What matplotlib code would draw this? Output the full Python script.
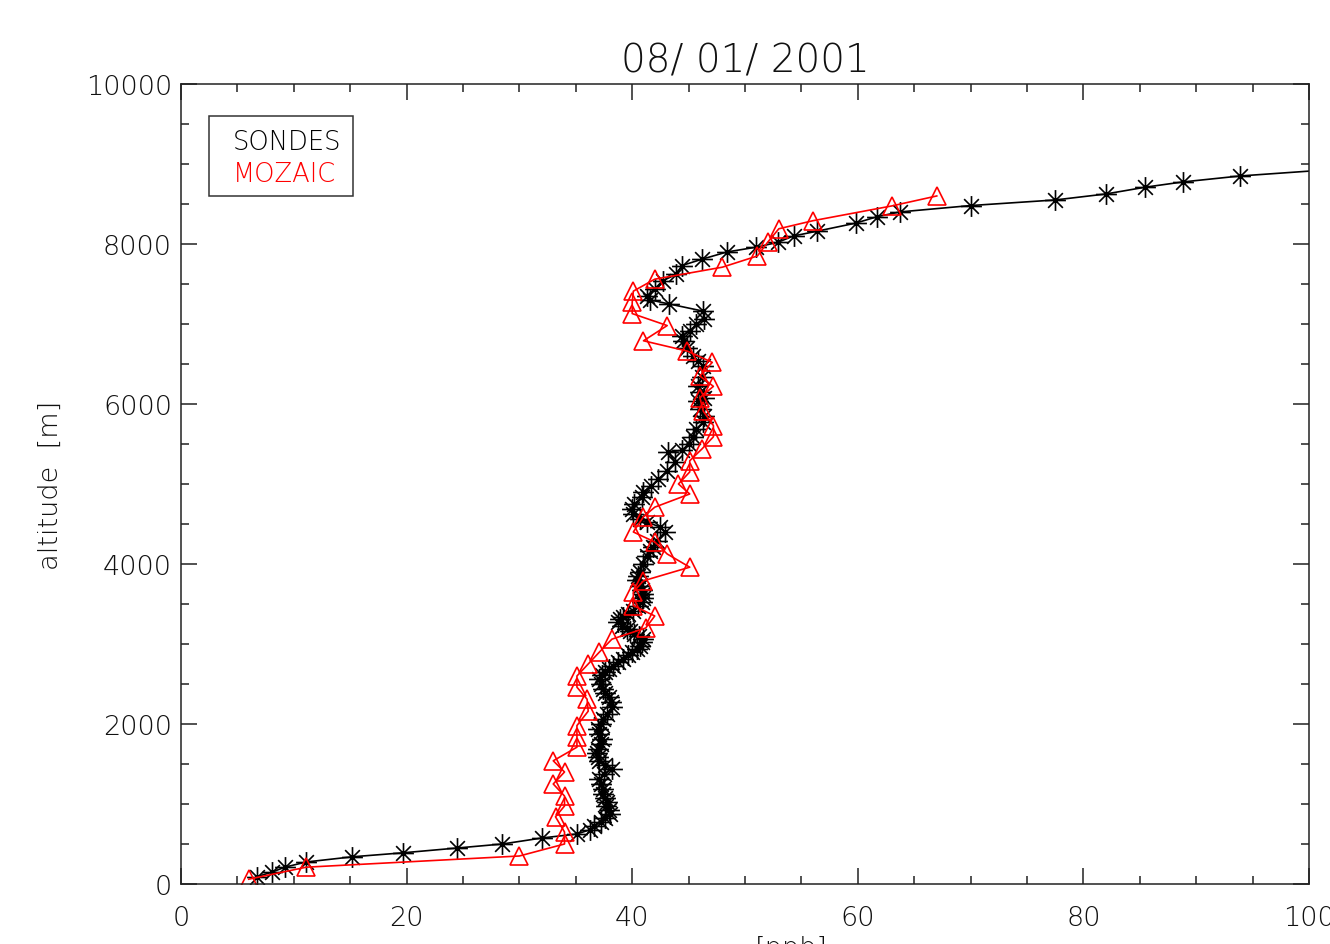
import matplotlib
matplotlib.use("Agg")
import matplotlib.pyplot as plt
from matplotlib.path import Path
from matplotlib.patches import Rectangle
from matplotlib.ticker import MultipleLocator

# ozone profiles, 08/01/2001 (o3 in ppb, altitude in m)
sondes_o3 = [6.7, 8.1, 9.2, 11.1, 15.2, 19.7, 24.5, 28.5, 32.0, 35.1, 36.3, 36.6,
             37.2, 37.6, 38.0, 37.9, 37.7, 37.8, 37.6, 37.4, 37.4, 37.2, 37.1, 37.5,
             38.2, 37.6, 37.1, 37.0, 36.9, 37.0, 37.2, 37.3, 37.1, 37.0, 37.2, 37.4,
             37.8, 38.2, 38.1, 37.9, 37.6, 37.4, 37.2, 37.1, 37.3, 37.6, 37.9, 38.3,
             38.7, 39.2, 39.6, 40.0, 40.4, 40.7, 40.9, 41.0, 40.6, 40.2, 39.8, 39.5,
             39.1, 38.7, 38.9, 39.2, 39.6, 40.1, 40.5, 40.9, 41.0, 41.0, 40.9, 40.7,
             40.4, 40.5, 40.7, 41.0, 41.3, 41.6, 41.8, 42.2, 42.9, 42.5, 41.3, 40.7,
             40.1, 40.0, 40.2, 40.9, 41.0, 41.7, 42.3, 43.1, 43.8, 43.2, 44.4, 45.0,
             45.4, 45.7, 46.3, 46.4, 46.0, 45.8, 46.4, 46.0, 45.8, 46.2, 46.3, 45.8,
             45.4, 44.9, 44.5, 44.4, 45.1, 45.7, 46.4, 46.3, 43.3, 41.6, 41.3, 42.0,
             42.7, 43.9, 44.4, 46.2, 48.4, 51.0, 52.9, 54.3, 56.4, 59.8, 61.7, 63.7,
             70.0, 77.5, 82.0, 85.5, 88.8, 93.9, 104.0]
sondes_alt = [90, 150, 210, 275, 340, 390, 450, 500, 575, 625, 680, 730,
              780, 830, 880, 930, 980, 1030, 1080, 1130, 1190, 1250, 1310, 1370,
              1440, 1490, 1540, 1590, 1640, 1690, 1750, 1810, 1870, 1940, 2000, 2060,
              2130, 2210, 2270, 2340, 2390, 2440, 2500, 2560, 2610, 2650, 2690, 2725,
              2770, 2810, 2860, 2900, 2940, 2975, 3020, 3060, 3095, 3125, 3160, 3190,
              3230, 3275, 3310, 3340, 3375, 3410, 3470, 3525, 3575, 3625, 3675, 3725,
              3800, 3850, 3900, 4000, 4100, 4160, 4210, 4290, 4400, 4460, 4525, 4560,
              4625, 4690, 4750, 4840, 4900, 4975, 5060, 5160, 5275, 5400, 5420, 5500,
              5590, 5690, 5775, 5850, 5940, 6040, 6080, 6150, 6230, 6340, 6480, 6540,
              6600, 6700, 6790, 6850, 6910, 7000, 7060, 7160, 7250, 7300, 7350, 7440,
              7540, 7620, 7730, 7810, 7900, 7960, 8020, 8100, 8160, 8260, 8340, 8400,
              8480, 8550, 8625, 8710, 8775, 8850, 8950]

mozaic_o3 = [6.0, 11.1, 30.0, 34.0, 34.0, 33.2, 34.0, 34.0, 33.0, 34.0, 33.0, 35.1,
             35.1, 35.1, 36.1, 36.0, 35.1, 35.1, 36.1, 37.1, 38.2, 41.2, 42.0, 40.1,
             40.1, 41.0, 45.1, 43.1, 42.0, 40.1, 41.0, 42.0, 45.1, 44.1, 45.1, 45.1,
             46.2, 47.2, 47.2, 46.3, 46.0, 47.2, 46.0, 47.1, 44.9, 41.0, 43.1, 40.0,
             40.0, 40.1, 42.0, 48.0, 51.1, 52.0, 53.0, 56.0, 63.0, 67.0]
mozaic_alt = [60, 210, 350, 500, 650, 840, 975, 1100, 1250, 1400, 1540, 1710,
              1840, 1980, 2160, 2310, 2460, 2600, 2750, 2900, 3060, 3200, 3350, 3480,
              3650, 3790, 3960, 4125, 4275, 4400, 4590, 4710, 4875, 5000, 5150, 5290,
              5440, 5590, 5730, 5910, 6080, 6220, 6350, 6520, 6660, 6790, 6980, 7130,
              7270, 7410, 7560, 7710, 7850, 8020, 8190, 8290, 8475, 8600]

plt.rcParams['font.family'] = ['DejaVu Sans']
plt.rcParams['font.weight'] = 'light'
plt.rcParams['axes.titleweight'] = 'light'
plt.rcParams['axes.labelweight'] = 'light'

# IDL style asterisk
star = Path([(0, -1), (0, 1), (-1, 0), (1, 0),
             (-0.707, -0.707), (0.707, 0.707), (-0.707, 0.707), (0.707, -0.707)],
            [Path.MOVETO, Path.LINETO] * 4)

fig = plt.figure(figsize=(13.3, 9.45), dpi=100)
ax = fig.add_axes([0.1361, 0.0635, 0.8481, 0.8466])

ax.plot(sondes_o3, sondes_alt, color='black', lw=1.2, marker=star,
        ms=15, mew=1.2, mec='black')
ax.plot(mozaic_o3, mozaic_alt, color='red', lw=1.2, marker='^',
        ms=13.5, mew=1.2, mfc='none', mec='red')

ax.set_xlim(0, 100)
ax.set_ylim(0, 10000)
ax.xaxis.set_major_locator(MultipleLocator(20))
ax.xaxis.set_minor_locator(MultipleLocator(5))
ax.yaxis.set_major_locator(MultipleLocator(2000))
ax.yaxis.set_minor_locator(MultipleLocator(500))

ax.tick_params(which='both', direction='in', top=True, right=True,
               color='#222222', width=1.1, labelcolor='#111111', labelsize=19.5)
ax.tick_params(which='major', length=11.5)
ax.tick_params(which='minor', length=5.8)
ax.tick_params(axis='x', pad=15)
ax.tick_params(axis='y', pad=6.5)
for s in ax.spines.values():
    s.set_linewidth(1.1)
    s.set_color('#222222')

ax.set_title('08/ 01/ 2001', fontsize=28, color='#111111', pad=9)
ax.set_ylabel('altitude  [m]', fontsize=19.5, color='#111111')
ax.yaxis.set_label_coords(-0.105, 0.5)
ax.set_xlabel('[ppb]', fontsize=19.5, color='#111111')
ax.xaxis.set_label_coords(0.541, -0.064)

# legend box drawn IDL-like: plain text, no symbols
ax.add_patch(Rectangle((0.0248, 0.86), 0.1277, 0.1, transform=ax.transAxes,
                       fill=False, edgecolor='#333333', lw=1.1))
ax.text(0.0461, 0.919, 'SONDES', transform=ax.transAxes, fontsize=18.5,
        color='black', va='baseline')
ax.text(0.0461, 0.879, 'MOZAIC', transform=ax.transAxes, fontsize=18.5,
        color='red', va='baseline')

fig.savefig('out.png', dpi=100)
